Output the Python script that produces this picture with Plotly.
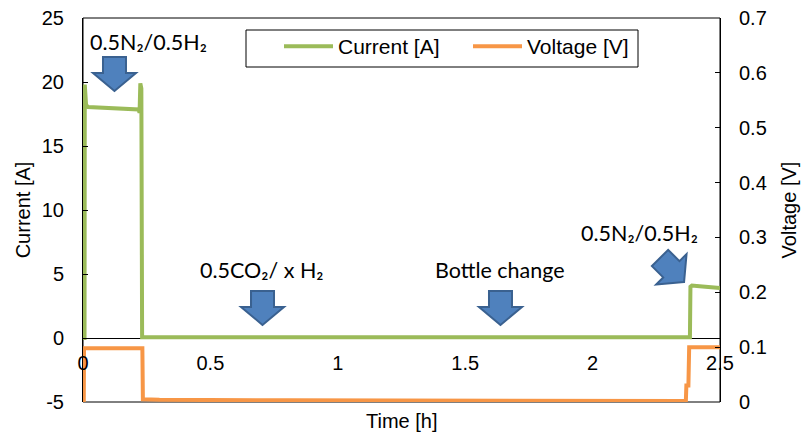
import math
import plotly.graph_objects as go

# ---------------- data ----------------
time_current_h = [0.0, 0.006, 0.007, 0.009, 0.012, 0.020, 0.060, 0.100, 0.150, 0.200, 0.218,
                  0.222, 0.225, 0.229, 0.232, 0.240, 0.600, 1.000, 1.500, 2.000, 2.382,
                  2.384, 2.390, 2.420, 2.460, 2.500]
current_A = [0.0, 0.0, 19.8, 19.2, 18.2, 18.05, 18.0, 18.0, 17.95, 17.9, 17.85,
             17.6, 19.9, 19.5, 0.05, 0.05, 0.05, 0.05, 0.05, 0.05, 0.05,
             4.0, 4.1, 4.05, 3.95, 3.9]

time_voltage_h = [0.0, 0.003, 0.004, 0.100, 0.200, 0.233, 0.235, 0.300, 0.800, 1.500,
                  2.000, 2.366, 2.368, 2.376, 2.379, 2.420, 2.500]
voltage_V = [0.0, 0.0, 0.098, 0.098, 0.098, 0.098, 0.005, 0.004, 0.003, 0.003,
             0.002, 0.002, 0.03, 0.03, 0.1, 0.1, 0.1]

x_range = [0, 2.5]
y_current_range = [-5, 25]
y_current_ticks = [-5, 0, 5, 10, 15, 20, 25]
y_current_ticktext = ["-5", "0", "5", "10", "15", "20", "25"]
y_voltage_range = [0, 0.7]

labels = ["0.5N₂/0.5H₂", "0.5CO₂/ x H₂", "Bottle change", "0.5N₂/0.5H₂"]
label_x = [0.259, 0.7006, 1.6366, 2.186]
label_y = [23.125, 5.31, 5.31, 8.2]
arrow_tip_x = [0.1236, 0.7045, 1.6385, 2.359]
arrow_tip_y = [19.3, 1.02, 1.02, 4.375]
arrow_angle = [0, 0, 0, -45]

GREEN = "#9BBB59"
ORANGE = "#F79646"
ARROW_FILL = "#4F81BD"
ARROW_LINE = "#3A6190"
AXFONT = "Liberation Sans, Arial, sans-serif"
ANFONT = "Lato, Noto Sans, sans-serif"

W, H = 801, 432
ML, MR, MT, MB = 83, 81, 18, 30
PW = W - ML - MR
PH = H - MT - MB
SX = PW / (x_range[1] - x_range[0])
SY = PH / (y_current_range[1] - y_current_range[0])

fig = go.Figure()
fig.add_trace(go.Scatter(x=time_current_h, y=current_A, mode="lines", name="Current [A]",
                         line=dict(color=GREEN, width=4), yaxis="y"))
fig.add_trace(go.Scatter(x=time_voltage_h, y=voltage_V, mode="lines", name="Voltage [V]",
                         line=dict(color=ORANGE, width=4), yaxis="y2"))


def arrow_path(tx, ty, ang):
    pts = [(0, 0), (-21.5, -18), (-11.5, -18), (-11.5, -34), (11.5, -34), (11.5, -18), (21.5, -18)]
    a = math.radians(ang)
    out = []
    for dx, dy in pts:
        rx = dx * math.cos(a) - dy * math.sin(a)
        ry = dx * math.sin(a) + dy * math.cos(a)
        out.append((tx + rx / SX, ty - ry / SY))
    return "M " + " L ".join(f"{px:.5f},{py:.5f}" for px, py in out) + " Z"


shapes = [dict(type="rect", xref="paper", yref="paper", x0=0, x1=1, y0=0, y1=1,
               line=dict(color="black", width=1), layer="below")]
for tx, ty, ang in zip(arrow_tip_x, arrow_tip_y, arrow_angle):
    shapes.append(dict(type="path", xref="x", yref="y", path=arrow_path(tx, ty, ang),
                       fillcolor=ARROW_FILL, line=dict(color=ARROW_LINE, width=2), layer="above"))

# legend box
shapes.append(dict(type="rect", xref="paper", yref="paper",
                   x0=(246 - ML) / PW, x1=(638 - ML) / PW,
                   y0=1 - (67 - MT) / PH, y1=1 - (30 - MT) / PH,
                   line=dict(color="black", width=1), fillcolor="white", layer="below"))

annotations = []
for t, x, y in zip(labels, label_x, label_y):
    annotations.append(dict(text=t, x=x, y=y, xref="x", yref="y", showarrow=False,
                            font=dict(family=ANFONT, size=21.5, color="black")))
# x-axis title (axis line sits at y = 0, title sits under the plot frame)
annotations.append(dict(text="Time [h]", x=0.5, y=0, xref="paper", yref="paper",
                        xanchor="center", yanchor="middle", yshift=-19, showarrow=False,
                        font=dict(family=AXFONT, size=20, color="black")))

fig.update_layout(
    width=W, height=H,
    margin=dict(l=ML, r=MR, t=MT, b=MB, pad=0),
    paper_bgcolor="white", plot_bgcolor="rgba(0,0,0,0)",
    font=dict(family=AXFONT, size=20, color="black"),
    showlegend=True,
    legend=dict(orientation="h", x=(279 - ML) / PW, y=1 - (26 - MT) / PH,
                xanchor="left", yanchor="top", bgcolor="rgba(0,0,0,0)", borderwidth=0,
                itemwidth=49, entrywidth=125, entrywidthmode="pixels",
                font=dict(family=AXFONT, size=21, color="black")),
    xaxis=dict(range=x_range, dtick=0.5, tick0=0, showgrid=False, zeroline=False,
               showline=False, ticks="", anchor="free", automargin=False,
               position=(0 - y_current_range[0]) / (y_current_range[1] - y_current_range[0]),
               ticklabelstandoff=11),
    yaxis=dict(range=y_current_range, tickmode="array", tickvals=y_current_ticks,
               ticktext=y_current_ticktext, showgrid=False, zeroline=True, automargin=False,
               zerolinecolor="black", zerolinewidth=1, showline=True, linecolor="black",
               ticks="inside", ticklen=5, tickcolor="black", ticklabelstandoff=14,
               title=dict(text="Current [A]", standoff=5, font=dict(size=20))),
    yaxis2=dict(range=y_voltage_range, dtick=0.1, overlaying="y", side="right", automargin=False,
                showgrid=False, zeroline=False, showline=True, linecolor="black",
                ticks="inside", ticklen=5, tickcolor="black", ticklabelstandoff=14,
                title=dict(text="Voltage [V]", standoff=16, font=dict(size=20))),
    shapes=shapes,
    annotations=annotations,
)

fig.write_html("out.html")
